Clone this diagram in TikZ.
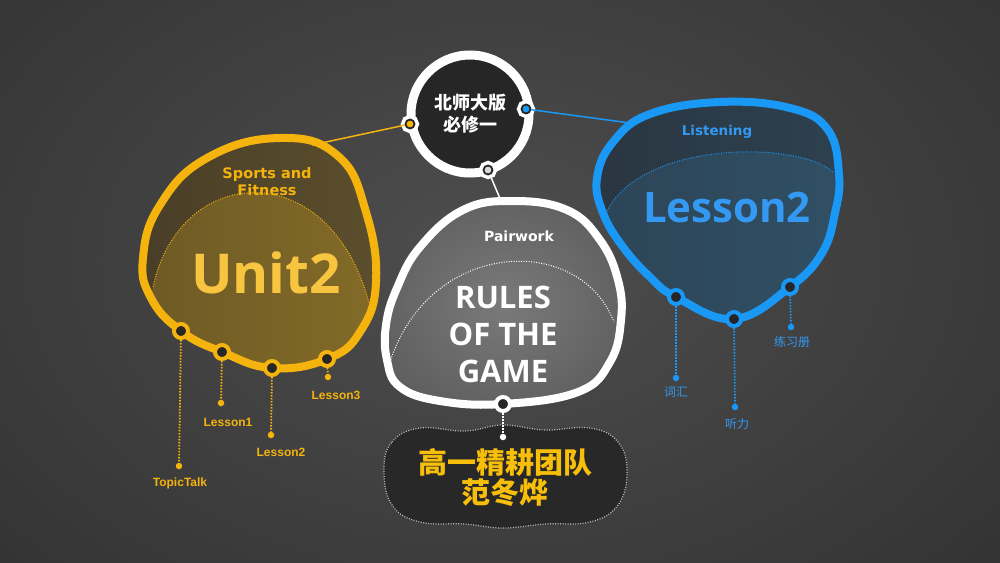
\documentclass[tikz,border=0pt]{standalone}
\usepackage{fontspec}
\setmainfont{Liberation Sans}
\newfontfamily\bigfont{Open Sans}
\newfontfamily\heavyfont{DejaVu Sans}
\newfontfamily\cjk{Noto Sans CJK SC}
\usetikzlibrary{calc}

\definecolor{bgmid}{HTML}{4E4E4E}
\definecolor{bgmidb}{HTML}{363636}
\definecolor{bgdark}{HTML}{141414}
\definecolor{hubfill}{HTML}{262626}
\definecolor{unitgold}{HTML}{F5B30E}
\definecolor{unittext}{HTML}{F8C540}
\definecolor{unittopa}{HTML}{483D27}
\definecolor{unittopb}{HTML}{5C4F2D}
\definecolor{unitlowa}{HTML}{6C5925}
\definecolor{unitlowb}{HTML}{846B27}
\definecolor{lessonblue}{HTML}{1A98F5}
\definecolor{lessontext}{HTML}{3399F2}
\definecolor{lessontopa}{HTML}{2A3641}
\definecolor{lessontopb}{HTML}{2D4150}
\definecolor{lessonlowa}{HTML}{2D4456}
\definecolor{lessonlowb}{HTML}{305065}
\definecolor{rulesin}{HTML}{7A7A7A}
\definecolor{rulesout}{HTML}{4A4A4A}
\definecolor{cloudfill}{HTML}{282828}
\definecolor{teamgold}{HTML}{F7BE0A}

\pgfdeclareradialshading{stage}{\pgfpoint{0bp}{0bp}}{color(0bp)=(bgmid); color(22bp)=(bgmidb); color(50bp)=(bgdark)}
\pgfdeclareradialshading{rulesglow}{\pgfpoint{0bp}{0bp}}{color(0bp)=(rulesin); color(50bp)=(rulesout)}

\def\unitshape{plot[smooth cycle, tension=0.75] coordinates {(280,138) (338,156) (366,212) (376,282) (360,332) (327,359) (272,368) (222,352) (181,331) (151,298) (143,258) (160,205) (207,158)}}
\def\lessonshape{plot[smooth cycle, tension=0.7] coordinates {(597,178) (613,142) (650,114) (720,102) (790,108) (828,130) (839,175) (835,213) (822,253) (790,287) (734,319) (676,297) (650,277) (623,247) (603,213)}}
\def\rulesshape{plot[smooth cycle, tension=0.7] coordinates {(513,201) (567,210) (600,240) (618,280) (621,320) (610,362) (578,392) (503,404) (440,401) (400,387) (387,360) (386,325) (397,288) (420,247) (463,210)}}

\begin{document}
\begin{tikzpicture}[x=1pt, y=-1pt,
    ringdot/.style={circle, inner sep=0pt, minimum size=14pt, fill=hubfill, draw=#1, line width=4pt},
    pinend/.style={circle, inner sep=0pt, minimum size=6.5pt, fill=#1},
    pinline/.style={draw=#1, line width=1.8pt, dash pattern=on 1.5pt off 1.5pt},
    arcline/.style={draw=#1, line width=1pt, dash pattern=on 1pt off 1.5pt},
    hubdot/.style={circle, inner sep=0pt, minimum size=9pt, fill=#1, draw=hubfill, line width=1.8pt, preaction={draw=white, line width=9pt}},
    pinlabel/.style={font=\fontsize{12}{14}\selectfont\bfseries, text=unitgold},
    cnlabel/.style={font=\cjk\fontsize{12}{14}\selectfont, text=lessontext}]

        \useasboundingbox (0,0) rectangle (1000,562);

        %% Background
        \begin{scope}
            \clip (0,0) rectangle (1000,562);
            \fill[bgdark] (0,0) rectangle (1000,562);
            \shade[shading=stage] (490,260) ellipse (690 and 470);
        \end{scope}

        %% Unit2 blob
        \begin{scope}
            \clip \unitshape;
            \shade[left color=unittopa, right color=unittopb] (135,130) rectangle (385,375);
            \shade[left color=unitlowa, right color=unitlowb] (153,287) .. controls (180,162) and (330,155) .. (369,303) -- (390,385) -- (130,385) -- cycle;
        \end{scope}
        \draw[arcline=unitgold] (153,287) .. controls (180,162) and (330,155) .. (369,303);
        \draw[unitgold, line width=8pt] \unitshape;

        %% Lesson2 blob
        \begin{scope}
            \clip \lessonshape;
            \shade[left color=lessontopa, right color=lessontopb] (590,95) rectangle (850,325);
            \shade[left color=lessonlowa, right color=lessonlowb] (606,213) .. controls (640,140) and (800,140) .. (834,173) -- (850,330) -- (590,330) -- cycle;
        \end{scope}
        \draw[arcline=lessonblue] (606,213) .. controls (640,140) and (800,140) .. (834,173);
        \draw[lessonblue, line width=8pt] \lessonshape;

        %% Rules blob
        \shade[shading=rulesglow] \rulesshape;
        \draw[arcline=white] (390,362) .. controls (430,238) and (580,233) .. (614,322);
        \draw[white, line width=8pt] \rulesshape;

        %% Links to the hub
        \coordinate (unitTop) at (312,145);
        \coordinate (lessonTop) at (630,123);
        \coordinate (rulesTop) at (501,201);

        %% Hub
        \node (hub) [circle, draw=white, line width=9pt, fill=hubfill, minimum size=118pt, inner sep=0pt, text=white, align=center, font=\cjk\bfseries\fontsize{18}{22}\selectfont] at (470,114) {北师大版\\必修一};
        \node (hubL) [hubdot=unitgold] at (410,124) {};
        \node (hubR) [hubdot=lessonblue] at (526,109) {};
        \node (hubB) [hubdot=white!85!black] at (488,170) {};
        \draw[unitgold, line width=1.5pt] (hubL) -- (unitTop);
        \draw[lessonblue, line width=1.5pt] (hubR) -- (lessonTop);
        \draw[white, line width=1.5pt] (hubB) -- (rulesTop);

        %% Titles
        \node (sports) [align=center, text=unitgold, font=\heavyfont\bfseries\fontsize{14.5}{17}\selectfont] at (267,182) {Sports and\\Fitness};
        \node (unit) [text=unittext, font=\bigfont\bfseries\fontsize{55}{55}\selectfont] at (266,273) {Unit2};
        \node (listening) [text=lessontext, font=\heavyfont\bfseries\fontsize{13.5}{16}\selectfont] at (717,132) {Listening};
        \node (lesson) [text=lessontext, font=\bigfont\bfseries\fontsize{42}{42}\selectfont] at (727,207) {Lesson2};
        \node (pairwork) [text=white, font=\heavyfont\bfseries\fontsize{14}{16}\selectfont] at (519,236) {Pairwork};
        \node (rules) [text=white, align=center, font=\bigfont\bfseries\fontsize{31}{37}\selectfont] at (503,334) {RULES\\OF THE\\GAME};

        %% Unit2 pins
        \node (u1) [ringdot=unitgold] at (181,331) {};
        \node (u2) [ringdot=unitgold] at (222,352) {};
        \node (u3) [ringdot=unitgold] at (272,368) {};
        \node (u4) [ringdot=unitgold] at (327,359) {};
        \node (u1e) [pinend=unitgold] at (179,466) {};
        \node (u2e) [pinend=unitgold] at (221,403) {};
        \node (u3e) [pinend=unitgold] at (271,435) {};
        \node (u4e) [pinend=unitgold] at (328,377) {};
        \draw[pinline=unitgold] (u1) -- (u1e);
        \draw[pinline=unitgold] (u2) -- (u2e);
        \draw[pinline=unitgold] (u3) -- (u3e);
        \draw[pinline=unitgold] (u4) -- (u4e);
        \node (topictalk) [pinlabel] at (180,483) {TopicTalk};
        \node (lessonone) [pinlabel] at (228,422) {Lesson1};
        \node (lessontwo) [pinlabel] at (281,452) {Lesson2};
        \node (lessonthree) [pinlabel] at (336,395) {Lesson3};

        %% Lesson2 pins
        \node (l1) [ringdot=lessonblue] at (676,297) {};
        \node (l2) [ringdot=lessonblue] at (734,319) {};
        \node (l3) [ringdot=lessonblue] at (790,287) {};
        \node (l1e) [pinend=lessonblue] at (676,378) {};
        \node (l2e) [pinend=lessonblue] at (735,407) {};
        \node (l3e) [pinend=lessonblue] at (791,327) {};
        \draw[pinline=lessonblue] (l1) -- (l1e);
        \draw[pinline=lessonblue] (l2) -- (l2e);
        \draw[pinline=lessonblue] (l3) -- (l3e);
        \node (vocab) [cnlabel] at (676,392) {词汇};
        \node (listen) [cnlabel] at (737,424) {听力};
        \node (workbook) [cnlabel] at (792,342) {练习册};

        %% Team
        \draw[fill=cloudfill, draw=white!75!black, line width=1.2pt, dash pattern=on 1pt off 1.5pt] plot[smooth cycle, tension=0.7] coordinates {(384,470) (392,442) (420,428) (465,431) (503,425) (545,430) (590,428) (618,442) (627,472) (618,505) (590,522) (545,524) (503,528) (465,524) (420,522) (392,505)};
        \node (r1) [ringdot=white] at (503,404) {};
        \node (r1e) [pinend=white] at (503,437) {};
        \draw[pinline=white] (r1) -- (r1e);
        \node (team) [align=center, text=teamgold, font=\cjk\bfseries\fontsize{29}{30}\selectfont] at (505,478) {高一精耕团队\\范冬烨};

\end{tikzpicture}
\end{document}
